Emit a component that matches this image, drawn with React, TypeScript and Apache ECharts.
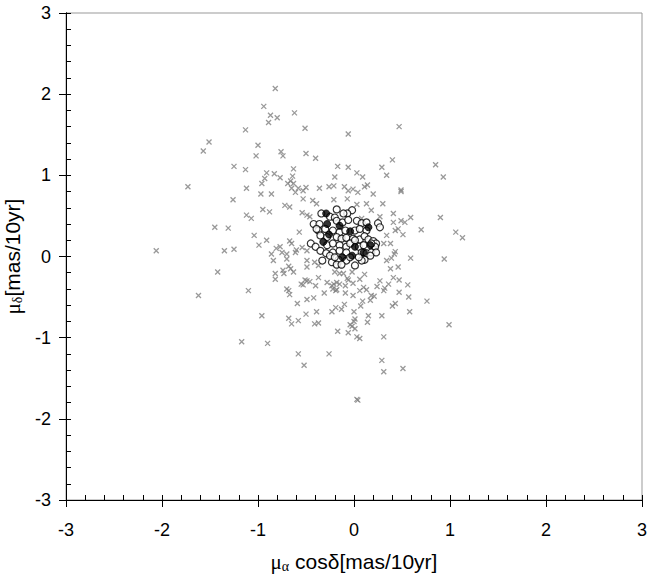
import React, { useEffect, useRef } from "react";
import * as echarts from "echarts";

// Tick labels
const xTicks = [-3, -2, -1, 0, 1, 2, 3];
const yTicks = [-3, -2, -1, 0, 1, 2, 3];

// Grey crosses: [mu_alpha cos delta, mu_delta] in mas/10yr
const crossPoints: [number, number][] = [
  [-0.82, 2.07], [-0.94, 1.85], [-0.87, 1.74], [-0.8, 1.71], [-0.89, 1.65], [-0.62, 1.77],
  [-0.51, 1.58], [-1.13, 1.56], [-1.51, 1.41], [-1.57, 1.3], [-1.0, 1.37], [-1.02, 1.24],
  [-0.76, 1.29], [-0.74, 1.24], [-0.5, 1.27], [-0.4, 1.21], [-1.25, 1.11], [-1.13, 1.07],
  [-0.63, 1.08], [-0.91, 1.03], [-0.83, 1.02], [-0.77, 0.97], [-0.64, 0.99], [-0.93, 0.96],
  [-0.96, 0.9], [-0.69, 0.9], [-0.66, 0.93], [-0.63, 0.9], [-1.73, 0.86], [-1.12, 0.84],
  [-0.65, 0.84], [-0.58, 0.84], [-0.5, 0.85], [-0.36, 0.84], [0.47, 1.6], [-0.06, 1.51],
  [0.4, 1.19], [0.29, 1.1], [0.85, 1.13], [-0.17, 1.11], [-0.06, 1.1], [0.03, 1.03],
  [0.09, 0.98], [-0.2, 0.98], [0.34, 1.0], [0.93, 0.98], [-0.21, 0.87], [-0.1, 0.86],
  [-0.01, 0.83], [0.11, 0.86], [0.14, 0.88], [0.49, 0.82], [-1.26, 0.7], [-1.12, 0.51],
  [-1.07, 0.47], [-1.45, 0.36], [-1.31, 0.35], [-1.04, 0.26], [-0.99, 0.14], [-2.06, 0.07],
  [-1.35, 0.07], [-1.25, 0.09], [-1.42, -0.19], [-1.62, -0.48], [-1.1, -0.42], [-0.82, -0.28],
  [-0.73, -0.21], [-0.63, -0.19], [-0.68, -0.42], [-0.67, -0.47], [-0.51, -0.29], [-0.49, -0.3],
  [-0.46, -0.31], [-0.4, -0.36], [-0.37, -0.26], [-0.53, -0.35], [-0.59, -0.58], [-0.49, -0.53],
  [-0.42, -0.51], [-0.96, -0.73], [-0.68, -0.76], [-0.65, -0.83], [-0.58, -0.79], [-0.5, -0.71],
  [-0.39, -0.68], [-0.41, -0.83], [-0.37, -0.82], [-1.17, -1.05], [-0.9, -1.07], [-0.58, -1.2],
  [-0.52, -1.34], [-0.31, -0.45], [-0.19, -0.42], [-0.09, -0.45], [-0.01, -0.48], [0.06, -0.42],
  [0.18, -0.48], [0.21, -0.49], [0.17, -0.54], [0.09, -0.55], [0.07, -0.61], [-0.1, -0.59],
  [-0.13, -0.65], [-0.19, -0.63], [-0.23, -0.68], [0.0, -0.68], [0.31, -0.42], [0.47, -0.44],
  [0.57, -0.5], [0.76, -0.55], [0.43, -0.58], [0.4, -0.61], [0.58, -0.68], [0.29, -0.73],
  [0.15, -0.73], [0.14, -0.81], [0.01, -0.77], [0.0, -0.8], [-0.04, -0.84], [-0.02, -0.86],
  [0.01, -0.89], [-0.06, -0.94], [-0.17, -0.92], [0.03, -0.99], [0.06, -1.01], [0.31, -0.99],
  [-0.26, -1.2], [0.29, -1.28], [0.31, -1.42], [0.51, -1.38], [0.04, -1.77], [0.03, -1.76],
  [-0.2, -0.19], [-0.15, -0.21], [-0.11, -0.21], [-0.02, -0.19], [-0.07, -0.27], [-0.06, -0.29],
  [0.06, -0.28], [0.11, -0.22], [-0.23, -0.36], [-0.21, -0.34], [-0.18, -0.32], [-0.15, -0.34],
  [-0.09, -0.36], [-0.01, -0.33], [-0.18, -0.41], [0.24, -0.37], [0.32, -0.39], [0.47, -0.29],
  [0.56, -0.35], [0.99, -0.84], [0.49, 0.8], [0.41, 0.53], [0.49, 0.44], [0.53, 0.42],
  [0.59, 0.48], [0.9, 0.48], [0.46, 0.34], [0.51, 0.27], [0.7, 0.33], [1.06, 0.3],
  [1.13, 0.23], [0.38, 0.16], [0.43, 0.06], [0.42, 0.03], [0.39, -0.02], [0.59, -0.02],
  [0.94, -0.03], [0.46, -0.13], [-0.53, 0.81], [-0.61, 0.79], [-0.26, 0.86], [-0.06, 0.81],
  [0.04, 0.79], [-0.86, 0.77], [-0.97, 0.77], [-0.72, 0.63], [-0.67, 0.61], [-0.95, 0.58],
  [-0.88, 0.55], [-0.53, 0.71], [-0.43, 0.69], [-0.39, 0.65], [-0.21, 0.7], [-0.07, 0.71],
  [0.03, 0.64], [0.2, 0.77], [0.3, 0.65], [-0.54, 0.54], [-0.49, 0.51], [-0.46, 0.49],
  [-0.57, 0.3], [-0.91, 0.2], [-0.86, 0.03], [-0.75, 0.05], [-0.7, 0.03], [-0.81, 0.1],
  [-0.77, 0.12], [-0.84, -0.05], [-0.7, -0.03], [-0.65, 0.16], [-0.67, 0.19], [-0.61, 0.05],
  [-0.6, 0.08], [-0.54, 0.11], [-0.49, 0.07], [-0.49, -0.05], [-0.49, -0.13], [-0.41, -0.07],
  [-0.37, -0.11], [-0.74, -0.17], [-0.66, -0.15], [-0.82, -0.21], [-0.68, -0.12], [-0.7, -0.4],
  [-0.55, -0.34], [-0.28, -0.32], [-0.22, -0.4], [0.1, -0.38], [0.13, -0.41], [0.27, -0.3],
  [0.36, -0.34], [0.41, -0.26], [0.31, 0.16], [0.34, -0.05], [0.38, -0.15], [0.34, 0.26],
  [0.41, 0.42], [0.43, 0.32], [0.13, 0.65], [0.18, 0.57], [0.27, 0.49], [0.08, 0.47],
  [-0.11, 0.22], [-0.15, -0.11],
];

// Open circles
const openPoints: [number, number][] = [
  [-0.18, 0.58], [-0.02, 0.57], [-0.07, 0.53], [-0.25, 0.49], [-0.2, 0.48], [-0.42, 0.4],
  [-0.36, 0.4], [-0.18, 0.44], [-0.12, 0.42], [-0.06, 0.45], [0.03, 0.44], [0.08, 0.41],
  [0.13, 0.42], [0.25, 0.41], [0.27, 0.36], [-0.37, 0.32], [-0.3, 0.34], [-0.22, 0.32],
  [-0.15, 0.3], [-0.09, 0.32], [0.01, 0.32], [0.06, 0.34], [0.13, 0.32], [-0.35, 0.26],
  [-0.18, 0.24], [-0.13, 0.22], [-0.08, 0.23], [-0.01, 0.22], [0.06, 0.21], [0.11, 0.25],
  [0.15, 0.21], [0.2, 0.19], [0.23, 0.16], [-0.45, 0.16], [-0.4, 0.12], [-0.28, 0.14],
  [-0.22, 0.16], [-0.15, 0.14], [-0.08, 0.12], [0.05, 0.12], [0.1, 0.14], [0.22, 0.12],
  [-0.35, 0.07], [-0.29, 0.04], [-0.22, 0.05], [-0.15, 0.07], [-0.08, 0.05], [0.08, 0.05],
  [0.13, 0.04], [0.18, 0.05], [0.23, 0.05], [0.17, 0.01], [-0.33, -0.05], [-0.23, -0.07],
  [-0.16, -0.04], [-0.08, -0.05], [0.01, -0.11], [0.11, -0.04], [0.08, -0.05], [-0.18, -0.1],
  [-0.13, -0.1], [-0.25, 0.01], [-0.28, 0.24], [-0.04, 0.16], [0.01, 0.2], [-0.39, 0.34],
  [-0.34, 0.53], [-0.11, 0.53], [-0.2, -0.01], [-0.04, -0.01], [0.18, 0.16], [0.05, -0.01],
];

// Filled circles
const filledPoints: [number, number][] = [
  [-0.29, 0.53], [-0.28, 0.4], [0.15, 0.36], [-0.26, 0.27], [-0.04, 0.31], [-0.32, 0.18],
  [0.01, 0.12], [0.17, 0.14], [-0.02, 0.01], [-0.12, -0.01], [-0.15, 0.38], [0.1, 0.05],
];

const FONT = "'Liberation Sans', Arial, sans-serif";

export default function App() {
  const ref = useRef<HTMLDivElement>(null);
  useEffect(() => {
    if (!ref.current) return;
    const chart = echarts.init(ref.current, null, { renderer: "svg" });
    const axisBase = {
      type: "value" as const,
      min: xTicks[0],
      max: xTicks[xTicks.length - 1],
      interval: 1,
      splitLine: { show: false },
      axisLine: { show: true, onZero: false, lineStyle: { color: "#000", width: 1 } },
    };
    const rich = {
      mu: { fontSize: 21, fontFamily: "'Liberation Serif', serif", color: "#000" },
      sub: { fontSize: 14, fontFamily: "'Liberation Serif', serif", color: "#000", verticalAlign: "bottom", padding: [9, 0, 0, 0] },
      n: { fontSize: 21, fontFamily: FONT, color: "#000" },
    };
    chart.setOption({
      animation: false,
      backgroundColor: "#fff",
      grid: {
        left: 66,
        right: 8,
        top: 13,
        bottom: 74,
        show: true,
        borderColor: "#999",
        borderWidth: 1,
        backgroundColor: "#fff",
        containLabel: false,
        outerBoundsMode: "none",
      },
      xAxis: [
        {
          ...axisBase,
          position: "bottom",
          axisTick: { show: true, inside: false, length: 7, lineStyle: { color: "#000" } },
          axisLabel: { show: true, margin: 21, fontSize: 18, color: "#000", fontFamily: FONT },
          name: "{mu|μ}{sub|α}{n| cosδ[mas/10yr]}",
          nameLocation: "middle",
          nameGap: 50,
          nameTextStyle: { rich },
        },
        {
          ...axisBase,
          position: "bottom",
          axisTick: { show: true, inside: true, length: 5, lineStyle: { color: "#000" } },
          minorTick: { show: true, splitNumber: 5, length: 5, lineStyle: { color: "#000" } },
          axisLabel: { show: false },
        },
      ],
      yAxis: [
        {
          ...axisBase,
          min: yTicks[0],
          max: yTicks[yTicks.length - 1],
          position: "left",
          axisTick: { show: true, inside: false, length: 7, lineStyle: { color: "#000" } },
          axisLabel: { show: true, margin: 15, fontSize: 18, color: "#000", fontFamily: FONT },
          name: "{mu|μ}{sub|δ}{n|[mas/10yr]}",
          nameLocation: "middle",
          nameGap: 30,
          nameTextStyle: { rich },
        },
        {
          ...axisBase,
          min: yTicks[0],
          max: yTicks[yTicks.length - 1],
          position: "left",
          axisTick: { show: true, inside: true, length: 5, lineStyle: { color: "#000" } },
          minorTick: { show: true, splitNumber: 5, length: 5, lineStyle: { color: "#000" } },
          axisLabel: { show: false },
        },
      ],
      series: [
        {
          type: "scatter",
          name: "cross",
          data: crossPoints,
          symbol: "path://M0,0L10,10M10,0L0,10",
          symbolSize: 5,
          itemStyle: { color: "rgba(0,0,0,0)", borderColor: "#808080", borderWidth: 1.3 },
          emphasis: { disabled: true },
        },
        {
          type: "scatter",
          name: "open",
          data: openPoints,
          symbol: "circle",
          symbolSize: 7,
          itemStyle: { color: "#fff", borderColor: "#000", borderWidth: 1.2 },
          emphasis: { disabled: true },
        },
        {
          type: "scatter",
          name: "filled",
          data: filledPoints,
          symbol: "circle",
          symbolSize: 7,
          itemStyle: { color: "#000", borderColor: "#000", borderWidth: 1 },
          emphasis: { disabled: true },
        },
      ],
    });
    return () => chart.dispose();
  }, []);
  return (
    <div
      ref={ref}
      style={{ position: "fixed", left: 0, top: 0, width: 650, height: 574, background: "#fff" }}
    />
  );
}
